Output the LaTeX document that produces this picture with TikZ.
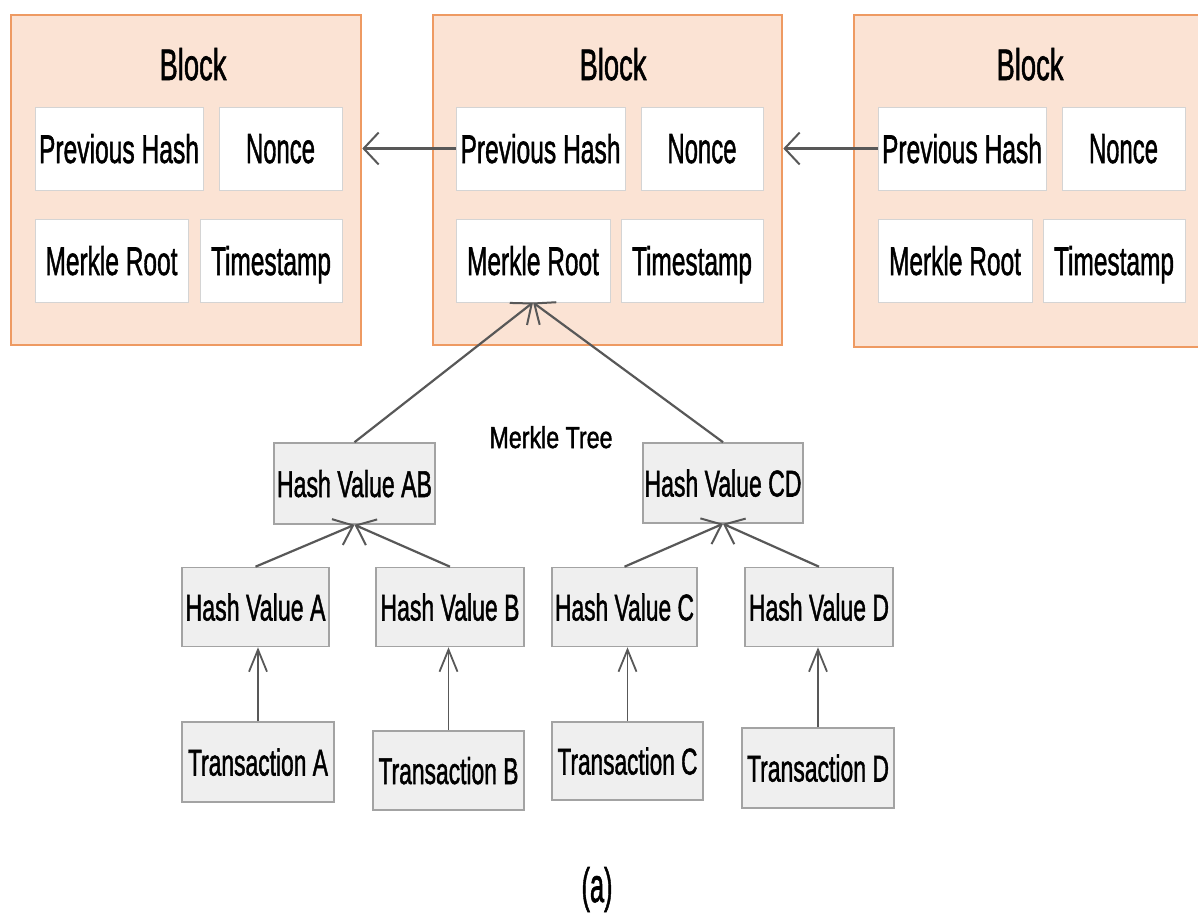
\documentclass[tikz,border=0pt]{standalone}
\usepackage{fontspec}
\setmainfont{Liberation Sans}[FakeBold=1.6]
\usetikzlibrary{arrows.meta}
\definecolor{blockfill}{HTML}{FBE3D4}
\definecolor{blockline}{HTML}{EE9A62}
\definecolor{cellline}{HTML}{D4D4D4}
\definecolor{treefill}{HTML}{EFEFEF}
\definecolor{treeline}{HTML}{A3A3A3}
\definecolor{linkgray}{HTML}{585858}
% text squeezed to a given width and cap height
\newcommand{\sqz}[3]{\resizebox{#1pt}{#2pt}{#3}}
\begin{document}
\begin{tikzpicture}[x=1pt,y=-1pt,
  blockbox/.style={draw=blockline, line width=2.6pt, fill=blockfill, inner sep=0pt},
  blocktitle/.style={inner sep=0pt, text height=32pt, text depth=0pt},
  cell/.style={draw=cellline, line width=1pt, fill=white, inner sep=0pt,
    text height=29pt, text depth=0pt, minimum height=83pt},
  treebox/.style={draw=treeline, line width=1.6pt, fill=treefill, inner sep=0pt,
    text height=27pt, text depth=0pt, minimum height=79pt},
  plain/.style={inner sep=0pt, text depth=0pt},
  chain/.style={draw=linkgray, line width=2.2pt,
    -{Straight Barb[length=15pt, width=32pt, line width=2pt]}},
  hashlink/.style={draw=linkgray, line width=2.2pt,
    -{Straight Barb[length=17pt, width=28pt, line width=2pt]}},
  txlink/.style={draw=linkgray, line width=1.8pt,
    -{Straight Barb[length=22pt, width=18pt, line width=1.8pt]}}
]
\useasboundingbox (0,0) rectangle (1198,913);
\clip (0,0) rectangle (1198,913);

% ---- chain of blocks ----
\node[blockbox, minimum width=350pt, minimum height=330pt] (blk1) at (186,180) {};
\node[blockbox, minimum width=349pt, minimum height=330pt] (blk2) at (607.5,180) {};
\node[blockbox, minimum width=358pt, minimum height=332pt] (blk3) at (1033,181) {};

\node[blocktitle] (bt1) at (193,64) {\sqz{67}{32}{Block}};
\node[blocktitle] (bt2) at (613,64) {\sqz{67}{32}{Block}};
\node[blocktitle] (bt3) at (1030,64) {\sqz{67}{32}{Block}};

% block 1 fields
\node[cell, minimum width=168pt] (ph1) at (119,148.5) {\sqz{160}{29}{Previous Hash}};
\node[cell, minimum width=123pt] (nc1) at (280.5,148.5) {\sqz{69}{29}{Nonce}};
\node[cell, minimum width=153pt] (mr1) at (111.5,260.5) {\sqz{132}{29}{Merkle Root}};
\node[cell, minimum width=142pt] (ts1) at (271,260.5) {\sqz{120}{29}{Timestamp}};
% block 2 fields
\node[cell, minimum width=169pt] (ph2) at (540.5,148.5) {\sqz{160}{29}{Previous Hash}};
\node[cell, minimum width=122pt] (nc2) at (702,148.5) {\sqz{69}{29}{Nonce}};
\node[cell, minimum width=154pt] (mr2) at (533,260.5) {\sqz{132}{29}{Merkle Root}};
\node[cell, minimum width=142pt] (ts2) at (692,260.5) {\sqz{120}{29}{Timestamp}};
% block 3 fields
\node[cell, minimum width=168pt] (ph3) at (962,148.5) {\sqz{160}{29}{Previous Hash}};
\node[cell, minimum width=123pt] (nc3) at (1123.5,148.5) {\sqz{69}{29}{Nonce}};
\node[cell, minimum width=154pt] (mr3) at (955,260.5) {\sqz{132}{29}{Merkle Root}};
\node[cell, minimum width=142pt] (ts3) at (1114,260.5) {\sqz{120}{29}{Timestamp}};

% previous-hash links
\draw[chain] (ph2.west) -- (ph2.west -| blk1.east);
\draw[chain] (ph3.west) -- (ph3.west -| blk2.east);

% ---- Merkle tree ----
\node[plain, text height=22pt] (mt) at (551,437) {\sqz{123}{22}{Merkle Tree}};

\node[treebox, minimum width=161pt, minimum height=81pt] (hab) at (354.5,483.5) {\sqz{155}{27}{Hash Value AB}};
\node[treebox, minimum width=160pt, minimum height=80pt] (hcd) at (723,483) {\sqz{157}{27}{Hash Value CD}};

\node[treebox, minimum width=147pt] (ha) at (255.5,607) {\sqz{140}{27}{Hash Value A}};
\node[treebox, minimum width=148pt] (hb) at (450,607) {\sqz{139}{27}{Hash Value B}};
\node[treebox, minimum width=145pt] (hc) at (624.5,607) {\sqz{139}{27}{Hash Value C}};
\node[treebox, minimum width=148pt] (hd) at (819,607) {\sqz{140}{27}{Hash Value D}};

\node[treebox, minimum width=152pt, minimum height=80pt] (ta) at (258,762) {\sqz{140}{27}{Transaction A}};
\node[treebox, minimum width=151pt] (tb) at (448.5,770.5) {\sqz{140}{27}{Transaction B}};
\node[treebox, minimum width=151pt, minimum height=78pt] (tc) at (627.5,761) {\sqz{140}{27}{Transaction C}};
\node[treebox, minimum width=152pt, minimum height=80pt] (td) at (818,768) {\sqz{142}{27}{Transaction D}};

% tree links
\draw[hashlink] (hab.north) -- (mr2.south);
\draw[hashlink] (hcd.north) -- (mr2.south);
\draw[hashlink] (ha.north) -- (hab.south);
\draw[hashlink] (hb.north) -- (hab.south);
\draw[hashlink] (hc.north) -- (hcd.south);
\draw[hashlink] (hd.north) -- (hcd.south);
\draw[txlink] (ta.north) -- (ta.north |- ha.south);
\draw[txlink] (tb.north) -- (tb.north |- hb.south);
\draw[txlink] (tc.north) -- (tc.north |- hc.south);
\draw[txlink] (td.north) -- (td.north |- hd.south);

% caption
\node[plain, text height=35pt] (cap) at (597,884.5) {\sqz{31}{35}{(a)}};
\end{tikzpicture}
\end{document}
